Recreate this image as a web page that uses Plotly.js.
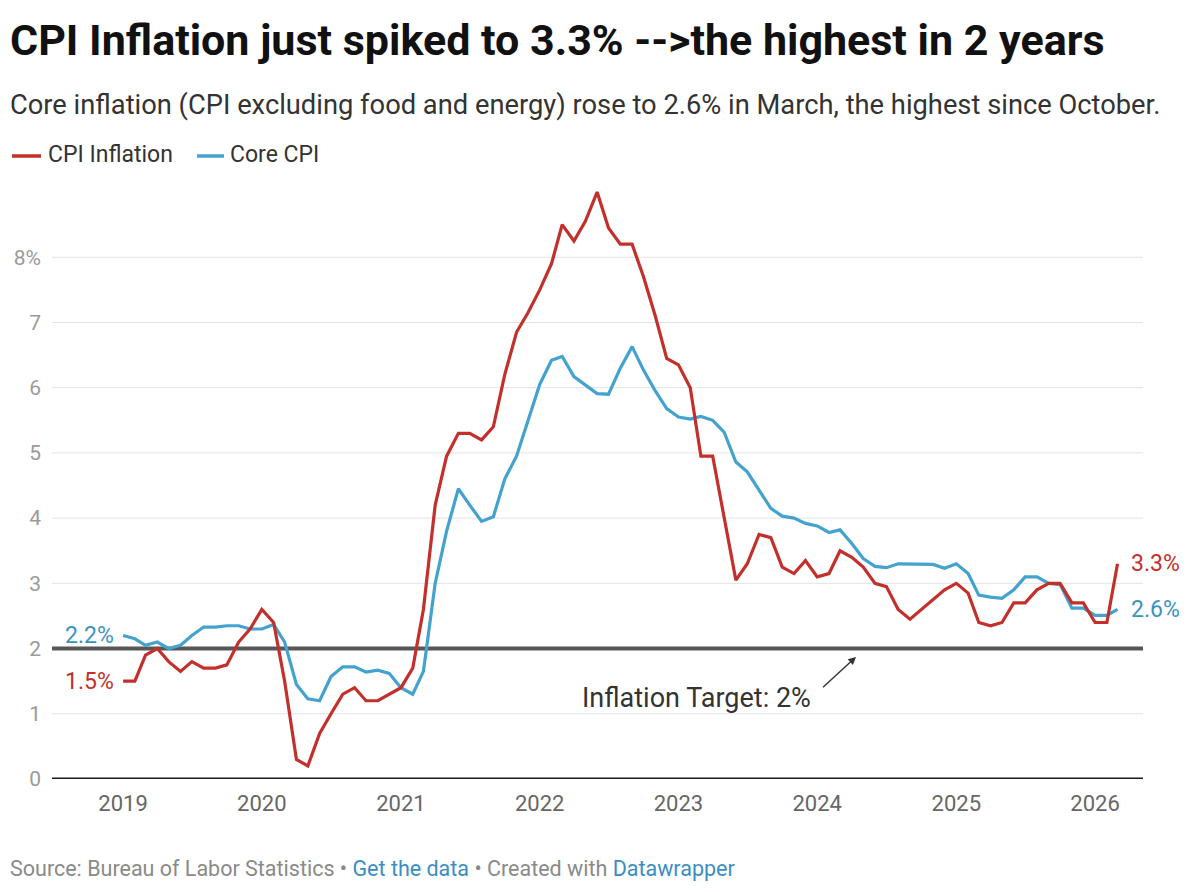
<!DOCTYPE html>
<html>
<head>
<meta charset="utf-8">
<script src="https://cdn.plot.ly/plotly-3.0.1.min.js"></script>
<style>
  html, body { margin: 0; padding: 0; background: #fff; }
  #chart { width: 1200px; height: 892px; }
</style>
</head>
<body>
<div id="chart"></div>
<script>
// ---- Data (monthly, Jan 2019 – Mar 2026) ----
const startYear = 2019;
const cpiInflation = [
  1.5, 1.5, 1.9, 2.0, 1.8, 1.65, 1.8, 1.7, 1.7, 1.75, 2.1, 2.3,      // 2019
  2.6, 2.4, 1.5, 0.3, 0.2, 0.7, 1.0, 1.3, 1.4, 1.2, 1.2, 1.3,        // 2020
  1.4, 1.7, 2.6, 4.2, 4.95, 5.3, 5.3, 5.2, 5.4, 6.2, 6.85, 7.15,     // 2021
  7.5, 7.9, 8.5, 8.25, 8.55, 9.0, 8.45, 8.2, 8.2, 7.7, 7.1, 6.45,    // 2022
  6.35, 6.0, 4.95, 4.95, 4.0, 3.05, 3.3, 3.75, 3.7, 3.25, 3.15, 3.35,// 2023
  3.1, 3.15, 3.5, 3.4, 3.25, 3.0, 2.95, 2.6, 2.45, 2.6, 2.75, 2.9,   // 2024
  3.0, 2.85, 2.4, 2.35, 2.4, 2.7, 2.7, 2.9, 3.0, 3.0, 2.7, 2.7,      // 2025
  2.4, 2.4, 3.3                                                      // 2026
];
const coreCPI = [
  2.2, 2.15, 2.05, 2.1, 2.0, 2.05, 2.2, 2.33, 2.33, 2.35, 2.35, 2.3,     // 2019
  2.3, 2.37, 2.1, 1.45, 1.23, 1.2, 1.57, 1.72, 1.72, 1.64, 1.67, 1.62,   // 2020
  1.4, 1.3, 1.65, 3.0, 3.8, 4.45, 4.2, 3.95, 4.02, 4.6, 4.95, 5.5,       // 2021
  6.05, 6.42, 6.48, 6.17, 6.04, 5.91, 5.9, 6.3, 6.63, 6.27, 5.95, 5.68,  // 2022
  5.55, 5.52, 5.56, 5.5, 5.32, 4.86, 4.71, 4.43, 4.15, 4.03, 4.0, 3.92,  // 2023
  3.88, 3.78, 3.82, 3.61, 3.38, 3.26, 3.24, 3.3, 3.3, 3.3, 3.29, 3.23,   // 2024
  3.3, 3.15, 2.82, 2.79, 2.77, 2.9, 3.1, 3.1, 3.0, 2.98, 2.62, 2.62,     // 2025
  2.51, 2.51, 2.6                                                        // 2026
];
const yearTicks = ['2019','2020','2021','2022','2023','2024','2025','2026'];
const yTickVals = [0, 1, 2, 3, 4, 5, 6, 7, 8];
const yTickText = ['0', '1', '2', '3', '4', '5', '6', '7', '8%'];
const targetValue = 2;

// month dates for the series
const dates = cpiInflation.map((_, i) => {
  const y = startYear + Math.floor(i / 12);
  const m = (i % 12) + 1;
  return y + '-' + String(m).padStart(2, '0') + '-01';
});

// ---- Layout helpers (pixel -> paper) ----
const W = 1200, H = 892, L = 52, R = 57, T = 179, B = 113;
const px = x => (x - L) / (W - L - R);
const py = y => (H - B - y) / (H - T - B);

const RED = '#c3302b';
const BLUE = '#44a2cf';
const BLUE_TXT = '#3b93c0';
const FONT = 'Roboto, "Open Sans", sans-serif';

const traces = [
  { x: dates, y: coreCPI, type: 'scatter', mode: 'lines', name: 'Core CPI',
    line: { color: BLUE, width: 3.2 }, hoverinfo: 'skip' },
  { x: dates, y: cpiInflation, type: 'scatter', mode: 'lines', name: 'CPI Inflation',
    line: { color: RED, width: 3.2 }, hoverinfo: 'skip' }
];

const last = dates.length - 1;
const fmt = v => v.toFixed(1) + '%';

// gridlines as shapes (so the target line can sit on top of them, below the data)
const gridShapes = yTickVals.filter(v => v !== 0 && v !== targetValue).map(v => ({
  type: 'line', xref: 'paper', yref: 'y', x0: 0, x1: 1, y0: v, y1: v,
  line: { color: '#e3e3e3', width: 1 }, layer: 'below'
}));

const layout = {
  width: W, height: H,
  margin: { l: L, r: R, t: T, b: B },
  paper_bgcolor: '#fff', plot_bgcolor: '#fff',
  showlegend: false,
  font: { family: FONT, color: '#333' },
  xaxis: {
    type: 'date',
    range: ['2018-06-28', '2026-05-07'],
    tickvals: yearTicks.map(y => y + '-01-01'),
    ticktext: yearTicks,
    showgrid: false, zeroline: false, showline: false, ticks: '',
    tickfont: { family: FONT, size: 22, color: '#666' },
    ticklabelstandoff: 9
  },
  yaxis: {
    range: [0, 9.2],
    tickvals: yTickVals, ticktext: yTickText,
    showgrid: false,
    zeroline: false, showline: false, ticks: '',
    tickfont: { family: FONT, size: 21, color: '#9a9a9a' },
    ticklabelstandoff: 10
  },
  shapes: gridShapes.concat([
    { type: 'line', xref: 'paper', yref: 'y', x0: 0, x1: 1, y0: targetValue, y1: targetValue,
      line: { color: '#575757', width: 4 }, layer: 'below' },
    { type: 'line', xref: 'paper', yref: 'y', x0: 0, x1: 1, y0: 0, y1: 0,
      line: { color: '#1a1a1a', width: 3 } },
    // legend swatches
    { type: 'line', xref: 'paper', yref: 'paper', x0: px(12), x1: px(41), y0: py(156), y1: py(156),
      line: { color: RED, width: 3.5 } },
    { type: 'line', xref: 'paper', yref: 'paper', x0: px(197), x1: px(224), y0: py(156), y1: py(156),
      line: { color: BLUE, width: 3.5 } }
  ]),
  annotations: [
    { xref: 'paper', yref: 'paper', x: px(8), y: py(40), xanchor: 'left', yanchor: 'middle',
      text: '<b>CPI Inflation just spiked to 3.3% -->the highest in 2 years</b>', showarrow: false,
      font: { family: FONT, size: 43, color: '#111' } },
    { xref: 'paper', yref: 'paper', x: px(8), y: py(105), xanchor: 'left', yanchor: 'middle',
      text: 'Core inflation (CPI excluding food and energy) rose to 2.6% in March, the highest since October.',
      showarrow: false, font: { family: FONT, size: 27.3, color: '#333' } },
    { xref: 'paper', yref: 'paper', x: px(46), y: py(155), xanchor: 'left', yanchor: 'middle',
      text: 'CPI Inflation', showarrow: false, font: { family: FONT, size: 23, color: '#333' } },
    { xref: 'paper', yref: 'paper', x: px(228), y: py(155), xanchor: 'left', yanchor: 'middle',
      text: 'Core CPI', showarrow: false, font: { family: FONT, size: 23, color: '#333' } },
    // end labels
    { x: dates[0], y: coreCPI[0], xref: 'x', yref: 'y', xanchor: 'right', yanchor: 'middle', xshift: -7,
      text: fmt(coreCPI[0]), showarrow: false, font: { family: FONT, size: 23, color: BLUE_TXT } },
    { x: dates[0], y: cpiInflation[0], xref: 'x', yref: 'y', xanchor: 'right', yanchor: 'middle', xshift: -7,
      text: fmt(cpiInflation[0]), showarrow: false, font: { family: FONT, size: 23, color: RED } },
    { x: dates[last], y: cpiInflation[last], xref: 'x', yref: 'y', xanchor: 'left', yanchor: 'middle', xshift: 11,
      text: fmt(cpiInflation[last]), showarrow: false, font: { family: FONT, size: 23, color: RED } },
    { x: dates[last], y: coreCPI[last], xref: 'x', yref: 'y', xanchor: 'left', yanchor: 'middle', xshift: 11,
      text: fmt(coreCPI[last]), showarrow: false, font: { family: FONT, size: 23, color: BLUE_TXT } },
    // target annotation
    { xref: 'paper', yref: 'paper', x: px(696), y: py(698), xanchor: 'center', yanchor: 'middle',
      text: 'Inflation Target: 2%', showarrow: false, font: { family: FONT, size: 27, color: '#333' } },
    { xref: 'paper', yref: 'paper', x: px(856), y: py(657), text: ' ', showarrow: true,
      axref: 'pixel', ayref: 'pixel', ax: -36, ay: 33, arrowhead: 2, arrowsize: 1.1, arrowwidth: 1.4,
      arrowcolor: '#333', standoff: 0, startstandoff: 0 },
    // footer
    { xref: 'paper', yref: 'paper', x: px(8), y: py(868), xanchor: 'left', yanchor: 'middle',
      text: 'Source: Bureau of Labor Statistics • <span style="color:#3a8ec4">Get the data</span> • Created with <span style="color:#3a8ec4">Datawrapper</span>',
      showarrow: false, font: { family: FONT, size: 21.5, color: '#8a8a8a' } }
  ]
};

Plotly.newPlot('chart', traces, layout, { staticPlot: true, displayModeBar: false });
</script>
</body>
</html>
